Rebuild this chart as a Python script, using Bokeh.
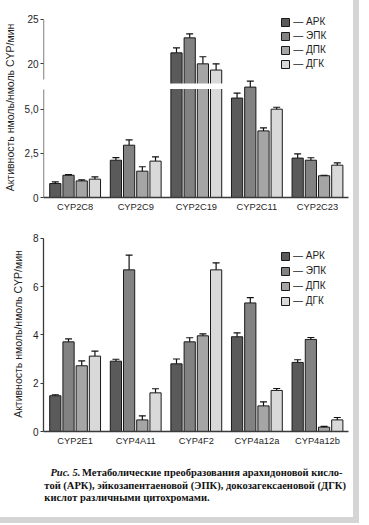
import numpy as np
from bokeh.plotting import figure
from bokeh.models import Range1d, LinearAxis, FixedTicker, Legend, LegendItem
from bokeh.layouts import column
from bokeh.core.properties import value
from bokeh.embed import file_html
from bokeh.resources import INLINE

# ---------------- data ----------------
series = ["АРК", "ЭПК", "ДПК", "ДГК"]
colors = ["#5a5a5a", "#828282", "#a5a5a5", "#d9d9d9"]

top_categories = ["CYP2C8", "CYP2C9", "CYP2C19", "CYP2C11", "CYP2C23"]
top_ark = [0.79, 2.11, 21.24, 5.63, 2.23]
top_epk = [1.26, 2.96, 22.93, 6.25, 2.11]
top_dpk = [0.94, 1.49, 20.00, 3.77, 1.23]
top_dgk = [1.04, 2.06, 19.30, 5.00, 1.83]
top_ark_err = [0.10, 0.15, 0.56, 0.28, 0.24]
top_epk_err = [0.04, 0.30, 0.45, 0.34, 0.14]
top_dpk_err = [0.06, 0.25, 0.80, 0.17, 0.03]
top_dgk_err = [0.13, 0.24, 0.70, 0.11, 0.13]
top_ticks = [0, 2.5, 5]
top_tick_labels = ["0", "2,5", "5,0"]
top_upper_ticks = [20, 25]
top_upper_tick_labels = ["20", "25"]

bottom_categories = ["CYP2E1", "CYP4A11", "CYP4F2", "CYP4a12a", "CYP4a12b"]
bottom_ark = [1.48, 2.91, 2.80, 3.92, 2.86]
bottom_epk = [3.71, 6.69, 3.71, 5.32, 3.81]
bottom_dpk = [2.72, 0.48, 3.96, 1.06, 0.18]
bottom_dgk = [3.12, 1.60, 6.69, 1.70, 0.48]
bottom_ark_err = [0.04, 0.08, 0.20, 0.16, 0.11]
bottom_epk_err = [0.12, 0.61, 0.17, 0.22, 0.08]
bottom_dpk_err = [0.20, 0.17, 0.08, 0.17, 0.03]
bottom_dgk_err = [0.21, 0.17, 0.29, 0.08, 0.10]
bottom_ticks = [0, 2, 4, 6, 8]
bottom_tick_labels = ["0", "2", "4", "6", "8"]

y_title = "Активность нмоль/нмоль CYP/мин"
caption_head = "Рис. 5."
caption_line1 = "Метаболические преобразования арахидоновой кисло-"
caption_line2 = "той (АРК), эйкозапентаеновой (ЭПК), докозагексаеновой (ДГК)"
caption_line3 = "кислот различными цитохромами."

# ---------------- style ----------------
SANS = "Liberation Sans"
SERIF = "Liberation Serif"
AX = "#3a3a3a"
TXT = "#1e1e1e"
OFFS = [-0.327, -0.109, 0.109, 0.327]
BW = 0.185
CAP = 0.115
W = 353
X0, X1 = -0.522, 4.512


def style_axis(ax, size="10px"):
    ax.axis_line_color = AX
    ax.axis_line_width = 1.3
    ax.major_tick_line_color = AX
    ax.major_tick_out = 3
    ax.major_tick_in = 0
    ax.minor_tick_line_color = None
    ax.major_label_text_font = SANS
    ax.major_label_text_font_size = size
    ax.major_label_text_color = TXT
    ax.major_label_standoff = 2


def line_only_axis(y_range_name, bounds):
    a = LinearAxis(y_range_name=y_range_name, fixed_location=X0, bounds=bounds,
                   ticker=FixedTicker(ticks=[]), axis_line_color=AX, axis_line_width=1.3,
                   major_tick_line_color=None, minor_tick_line_color=None,
                   major_label_text_font_size="0px")
    return a


def make_chart(cats, vals, errs, height, top_b, bot_b, yr, ticks, tlabels, ybounds,
               legend_loc, legend_spacing, title_standoff, upper=None):
    n = len(cats)
    p = figure(width=W, height=height, x_range=Range1d(X0, X1), y_range=Range1d(*yr),
               output_backend="svg", toolbar_location=None,
               min_border_left=40, min_border_right=5, min_border_top=top_b, min_border_bottom=bot_b)
    p.grid.visible = False
    p.outline_line_color = None
    p.background_fill_color = "white"
    p.border_fill_color = "white"

    xa = p.xaxis[0]
    style_axis(xa, "9.3px")
    xa.ticker = FixedTicker(ticks=[float(i) for i in range(n)])
    xa.major_label_overrides = {float(i): c for i, c in enumerate(cats)}
    xa.major_tick_line_color = None
    xa.major_tick_out = 0
    xa.major_label_standoff = 4

    ya = p.yaxis[0]
    style_axis(ya)
    tick_vals = [float(t) for t in ticks]
    tick_labs = list(tlabels)
    ya.axis_label = y_title
    ya.axis_label_text_font = SANS
    ya.axis_label_text_font_size = "10.5px"
    ya.axis_label_text_font_style = "normal"
    ya.axis_label_text_color = TXT
    ya.axis_label_standoff = title_standoff

    split = np.inf
    if upper is not None:
        split = upper["split"]
        ur = Range1d(*upper["range"])
        p.extra_y_ranges = {"upper": ur}
        lo_r = p.y_range
        # position of upper-scale ticks expressed on the lower scale
        for t, l in zip(upper["ticks"], upper["labels"]):
            tick_vals.append(lo_r.start + (t - ur.start) / (ur.end - ur.start) * (lo_r.end - lo_r.start))
            tick_labs.append(l)
        ya.axis_line_color = None
        p.add_layout(line_only_axis("default", ybounds), "left")
        p.add_layout(line_only_axis("upper", upper["bounds"]), "left")
    else:
        ya.bounds = ybounds
    ya.ticker = FixedTicker(ticks=tick_vals)
    ya.major_label_overrides = {t: l for t, l in zip(tick_vals, tick_labs)}

    xs = np.arange(n, dtype=float)
    renderers = []
    for k in range(4):
        v = np.array(vals[k], dtype=float)
        x = xs + OFFS[k]
        lo = v < split
        r = p.vbar(x=x[lo], top=v[lo], bottom=0, width=BW, fill_color=colors[k],
                   line_color="#1a1a1a", line_width=1)
        renderers.append(r)
        if upper is not None and (~lo).any():
            p.vbar(x=x[~lo], top=v[~lo], bottom=upper["range"][0], width=BW, fill_color=colors[k],
                   line_color="#1a1a1a", line_width=1, y_range_name="upper")
    for k in range(4):
        v = np.array(vals[k], dtype=float)
        e = np.array(errs[k], dtype=float)
        x = xs + OFFS[k]
        lo = v < split
        for mask, kw in ((lo, {}), (~lo, {"y_range_name": "upper"})):
            if not mask.any():
                continue
            xm, vm, tm = x[mask], v[mask], v[mask] + e[mask]
            p.segment(x0=xm, y0=vm, x1=xm, y1=tm, line_color="#111111", line_width=1.2, **kw)
            p.segment(x0=xm - CAP / 2, y0=tm, x1=xm + CAP / 2, y1=tm, line_color="#111111",
                      line_width=1.2, **kw)
    if upper is not None:
        big = [i for i in range(n) if max(vals[k][i] for k in range(4)) >= split]
        for i in big:
            p.quad(left=i + OFFS[0] - BW / 2 - 0.03, right=i + OFFS[3] + BW / 2 + 0.03,
                   bottom=upper["gap"][0], top=upper["gap"][1], fill_color="white",
                   line_color=None, y_range_name="upper")

    legend = Legend(items=[LegendItem(label="— " + s, renderers=[r]) for s, r in zip(series, renderers)],
                    location=legend_loc, orientation="vertical", glyph_width=10, glyph_height=10,
                    label_height=10, label_standoff=3, spacing=legend_spacing, padding=0, margin=0,
                    border_line_color=None, background_fill_alpha=0,
                    label_text_font=SANS, label_text_font_size="10px", label_text_color=TXT)
    p.add_layout(legend)
    return p


top_vals = [top_ark, top_epk, top_dpk, top_dgk]
top_errs = [top_ark_err, top_epk_err, top_dpk_err, top_dgk_err]
top = make_chart(top_categories, top_vals, top_errs, 218, 17, 21, (0, 10.19), top_ticks, top_tick_labels,
                 (0, 6.13), (237.3, 128), 3, 6,
                 upper=dict(range=(4.93, 25.225), ticks=top_upper_ticks, labels=top_upper_tick_labels,
                            bounds=(18.2, 25), gap=(17.16, 17.78), split=10))

bottom_vals = [bottom_ark, bottom_epk, bottom_dpk, bottom_dgk]
bottom_errs = [bottom_ark_err, bottom_epk_err, bottom_dpk_err, bottom_dgk_err]
bottom = make_chart(bottom_categories, bottom_vals, bottom_errs, 232, 18, 19, (0, 8.07), bottom_ticks,
                    bottom_tick_labels, (0, 8), (237, 125), 4, 6)

CAP_H = 67
cap = figure(width=W, height=CAP_H, x_range=Range1d(0, W), y_range=Range1d(CAP_H, 0),
             output_backend="svg", toolbar_location=None, x_axis_type=None, y_axis_type=None,
             min_border=0)
cap.grid.visible = False
cap.outline_line_color = None
cap.text(x=[8], y=[22], text=[caption_head], text_font=value(SERIF), text_font_size="10.5px",
         text_font_style="bold italic", text_baseline="middle", text_color="#111111")
cap.text(x=[44.5], y=[22], text=[caption_line1],
         text_font=value(SERIF), text_font_size="10.5px", text_font_style="bold",
         text_baseline="middle", text_color="#111111")
cap.text(x=[1, 1], y=[34.5, 47], text=[caption_line2, caption_line3],
         text_font=value(SERIF), text_font_size="10.5px", text_font_style="bold",
         text_baseline="middle", text_color="#111111")

layout = column(top, bottom, cap, spacing=0, styles={"outline": "6px solid #d5d5d5"})
open("out.html", "w").write(file_html(layout, INLINE))
